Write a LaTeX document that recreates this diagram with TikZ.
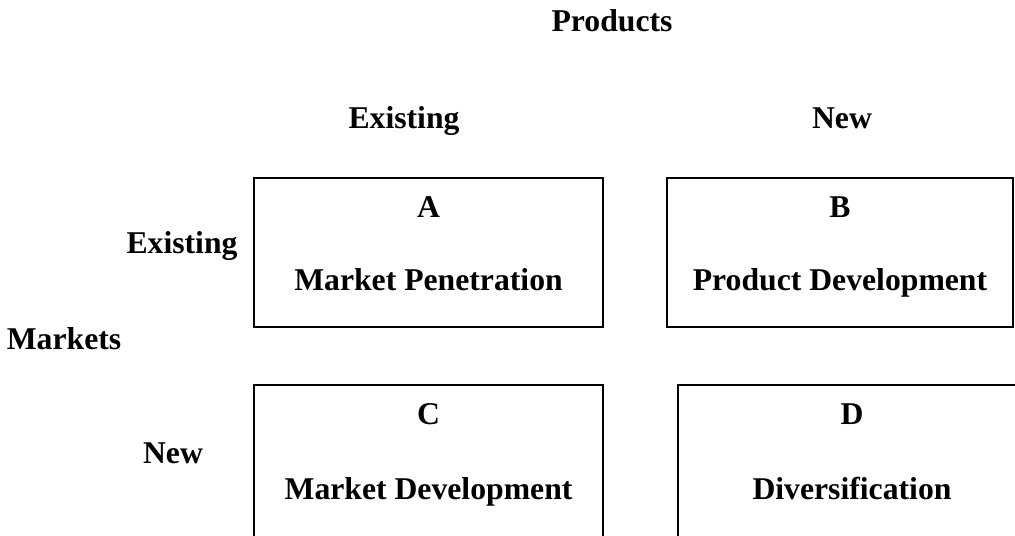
\documentclass[tikz,border=0pt]{standalone}
\usepackage{fontspec}
\setmainfont{Liberation Serif}
\begin{document}
\begin{tikzpicture}[x=0.5pt, y=-0.5pt,
    every node/.style={font=\fontsize{15.85}{19}\selectfont\bfseries, inner sep=0pt},
    lbl/.style={anchor=base},
    cell/.style={draw, line width=1pt, minimum height=74.5pt}]
    \useasboundingbox (0,0) rectangle (1015,535);
    \clip (0,0) rectangle (1015,535);
    \node[lbl] (products) at (612,32) {Products};
    \node[lbl] (pexist) at (404,128) {Existing};
    \node[lbl] (pnew) at (842,128) {New};
    \node[lbl] (mexist) at (182,253) {Existing};
    \node[lbl] (markets) at (64,349) {Markets};
    \node[lbl] (mnew) at (173,463) {New};
    \node[cell, minimum width=174.5pt] (boxA) at (428.5,252.5) {};
    \node[cell, minimum width=173pt] (boxB) at (840,252.5) {};
    \node[cell, minimum width=174.5pt, minimum height=87.5pt] (boxC) at (428.5,472.5) {};
    \node[cell, minimum width=174pt, minimum height=87.5pt] (boxD) at (852,472.5) {};
    \node[lbl] (letA) at (428.5,217) {A};
    \node[lbl] (nameA) at (428.5,290) {Market Penetration};
    \node[lbl] (letB) at (840,217) {B};
    \node[lbl] (nameB) at (840,290) {Product Development};
    \node[lbl] (letC) at (428.5,424) {C};
    \node[lbl] (nameC) at (428.5,499) {Market Development};
    \node[lbl] (letD) at (852,424) {D};
    \node[lbl] (nameD) at (852,499) {Diversification};
\end{tikzpicture}
\end{document}
